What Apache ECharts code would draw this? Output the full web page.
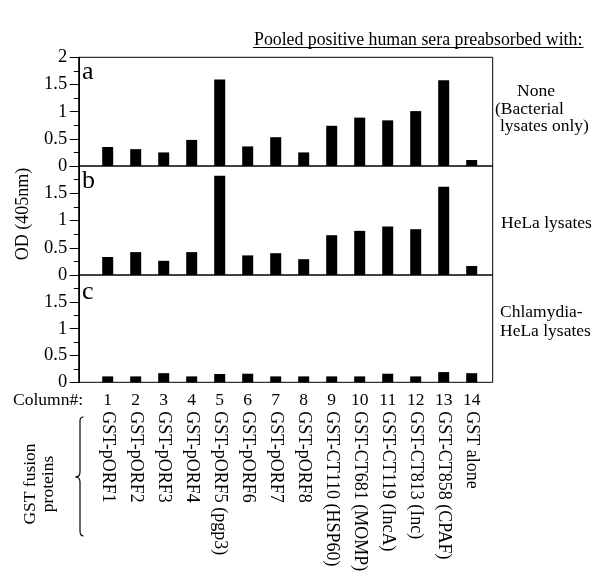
<!DOCTYPE html>
<html>
<head>
<meta charset="utf-8">
<script src="https://cdn.jsdelivr.net/npm/echarts@6/dist/echarts.min.js"></script>
<style>html,body{margin:0;padding:0;background:#fff}#c{width:600px;height:581px}</style>
</head>
<body>
<div id="c"></div>
<script>
const columnNumbers = ['1','2','3','4','5','6','7','8','9','10','11','12','13','14'];
const proteins = ['GST-pORF1','GST-pORF2','GST-pORF3','GST-pORF4','GST-pORF5 (pgp3)','GST-pORF6','GST-pORF7','GST-pORF8','GST-CT110 (HSP60)','GST-CT681 (MOMP)','GST-CT119 (IncA)','GST-CT813 (Inc)','GST-CT858 (CPAF)','GST alone'];
const panelA = [0.35,0.31,0.25,0.48,1.59,0.36,0.53,0.25,0.74,0.89,0.84,1.01,1.58,0.11];
const panelB = [0.33,0.42,0.26,0.42,1.82,0.36,0.40,0.29,0.73,0.81,0.89,0.84,1.62,0.165];
const panelC = [0.11,0.11,0.17,0.11,0.155,0.16,0.11,0.11,0.11,0.11,0.16,0.11,0.19,0.17];
const panelLetters = ['a','b','c'];
const yMax = 2;

const FONT = 'Liberation Serif';
const chart = echarts.init(document.getElementById('c'), null, {renderer:'canvas'});

const grids = [
  {left:78.7, top:57.3, width:414, height:108.7},
  {left:78.7, top:166, width:414, height:109},
  {left:78.7, top:275, width:414, height:107.3}
].map(g => Object.assign(g, {show:true, borderColor:'#000', borderWidth:1, backgroundColor:'transparent'}));

const xMin = -0.0357, xMax = 14.75;
const colIdx = columnNumbers.map((c,i)=>i+1);
const xAxes = [];
for (let i=0;i<3;i++){
  xAxes.push({type:'value', gridIndex:i, min:xMin, max:xMax, show:false});
}
xAxes.push({type:'value', gridIndex:2, min:xMin, max:xMax, position:'bottom',
  axisLine:{show:false}, axisTick:{show:false}, splitLine:{show:false},
  axisLabel:{customValues:colIdx, formatter:v=>columnNumbers[Math.round(v)-1], fontFamily:FONT, fontSize:17.5, color:'#000', margin:9}
});
xAxes.push({type:'value', gridIndex:2, min:xMin, max:xMax, position:'bottom',
  axisLine:{show:false}, axisTick:{show:false}, splitLine:{show:false},
  axisLabel:{customValues:colIdx, formatter:v=>proteins[Math.round(v)-1], rotate:-90, fontFamily:FONT, fontSize:18, color:'#000', margin:29}
});

const yAxes = [0,1,2].map(i=>({
  type:'value', gridIndex:i, min:0, max:yMax, interval:0.5,
  axisLine:{show:true, lineStyle:{color:'#000', width:1}},
  axisTick:{show:true, length:10, lineStyle:{color:'#000'}},
  minorTick:{show:true, splitNumber:2, length:6, lineStyle:{color:'#000'}},
  splitLine:{show:false},
  axisLabel:{fontFamily:FONT, fontSize:18.5, color:'#000', margin:11.5, showMaxLabel: i===0}
}));

const datas = [panelA, panelB, panelC];
const series = datas.map((d,i)=>({
  type:'bar', xAxisIndex:i, yAxisIndex:i, barWidth:11,
  itemStyle:{color:'#000'}, silent:true,
  data: d.map((v,j)=>[colIdx[j], v])
}));

const txt = (x,y,text,opt={}) => Object.assign({type:'text', x, y, silent:true,
  style:{text, fill:'#000', font:`${opt.size||17.5}px "${FONT}"`, align:opt.align||'left', verticalAlign:opt.va||'middle', lineHeight:opt.lh}},
  opt.rotation!==undefined?{rotation:opt.rotation}:{});

const stroke = {stroke:'#000', lineWidth:1.2, fill:null};
const quad = (x1,y1,cx,cy,x2,y2) => ({type:'bezierCurve', silent:true, shape:{x1,y1,x2,y2,cpx1:cx,cpy1:cy}, style:stroke});
const seg = (x1,y1,x2,y2) => ({type:'line', silent:true, shape:{x1,y1,x2,y2}, style:stroke});

const graphic = [
  txt(254, 40.5, 'Pooled positive human sera preabsorbed with:', {size:17.8}),
  {type:'line', silent:true, shape:{x1:253, y1:47.5, x2:583.5, y2:47.5}, style:{stroke:'#000', lineWidth:1}},
  txt(82, 72, panelLetters[0], {size:26}),
  txt(82, 181, panelLetters[1], {size:26}),
  txt(82, 292, panelLetters[2], {size:26}),
  txt(517, 91.5, 'None'),
  txt(495, 109, '(Bacterial'),
  txt(500, 126.5, 'lysates only)'),
  txt(501, 223, 'HeLa lysates'),
  txt(500, 312, 'Chlamydia-'),
  txt(500, 331, 'HeLa lysates'),
  txt(23, 214, 'OD (405nm)', {size:18, align:'center', rotation:Math.PI/2}),
  txt(13, 400, 'Column#:'),
  txt(39.5, 484, 'GST fusion\nproteins', {align:'center', rotation:Math.PI/2, lh:18.5}),
  quad(83.5,417, 80,417, 80,421),
  seg(80,421, 80,472),
  quad(80,472, 80,477, 75.5,477),
  quad(75.5,477, 80,477, 80,482),
  seg(80,482, 80,531),
  quad(80,531, 80,536, 83.5,536)
];

chart.setOption({
  animation:false,
  grid:grids, xAxis:xAxes, yAxis:yAxes, series, graphic
});
</script>
</body>
</html>
